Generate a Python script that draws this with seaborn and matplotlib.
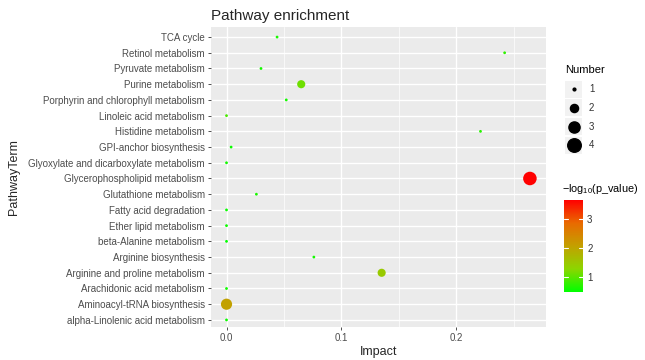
import numpy as np
import pandas as pd
import matplotlib
matplotlib.use('Agg')
import matplotlib.pyplot as plt
import seaborn as sns
from matplotlib.colors import LinearSegmentedColormap, Normalize
from matplotlib.lines import Line2D
from matplotlib.patches import Rectangle

# pathways listed top to bottom as they appear on the y axis
pathways = ['TCA cycle', 'Retinol metabolism', 'Pyruvate metabolism', 'Purine metabolism',
            'Porphyrin and chlorophyll metabolism', 'Linoleic acid metabolism',
            'Histidine metabolism', 'GPI-anchor biosynthesis',
            'Glyoxylate and dicarboxylate metabolism', 'Glycerophospholipid metabolism',
            'Glutathione metabolism', 'Fatty acid degradation', 'Ether lipid metabolism',
            'beta-Alanine metabolism', 'Arginine biosynthesis',
            'Arginine and proline metabolism', 'Arachidonic acid metabolism',
            'Aminoacyl-tRNA biosynthesis', 'alpha-Linolenic acid metabolism']
impact = [0.044, 0.242, 0.030, 0.065, 0.052, 0.0, 0.221, 0.004, 0.0, 0.264,
          0.026, 0.0, 0.0, 0.0, 0.076, 0.135, 0.0, 0.0, 0.0]
number = [1, 1, 1, 2, 1, 1, 1, 1, 1, 4, 1, 1, 1, 1, 1, 2, 1, 3, 1]
neglog_p = [0.62, 0.75, 0.60, 1.10, 0.58, 0.90, 0.70, 0.55, 0.58, 3.65,
            0.62, 0.52, 0.55, 0.48, 0.60, 1.45, 0.56, 2.05, 0.55]

df = pd.DataFrame({'PathwayTerm': pathways, 'Impact': impact,
                   'Number': number, 'neglog': neglog_p})

cmap = LinearSegmentedColormap.from_list(
    'gr', ['#00FF00', '#8CD600', '#C3A000', '#E96A00', '#FF0000'])
cnorm = Normalize(vmin=min(neglog_p), vmax=max(neglog_p))
size_range = (4, 95)
size_norm = (1, 4)

sns.set_theme(style='darkgrid')
plt.rcParams['font.family'] = ['Liberation Sans', 'DejaVu Sans']
plt.rcParams['mathtext.fontset'] = 'custom'
plt.rcParams['mathtext.rm'] = 'Liberation Sans'
plt.rcParams['mathtext.it'] = 'Liberation Sans:italic'

fig = plt.figure(figsize=(6.45, 3.6), dpi=100)
ax = fig.add_axes([211 / 645, 1 - 327 / 360, 335 / 645, 300 / 360])
ax.set_facecolor('#EBEBEB')

sns.scatterplot(data=df, x='Impact', y='PathwayTerm', hue='neglog', palette=cmap,
                hue_norm=cnorm, size='Number', sizes=size_range, size_norm=size_norm,
                linewidth=0, legend=False, ax=ax, zorder=3)

ax.set_xlim(-0.0135, 0.278)
ax.set_ylim(len(pathways) - 0.55, -0.64)
ax.set_xticks([0.0, 0.1, 0.2])
ax.set_xticklabels(['0.0', '0.1', '0.2'])
ax.set_xticks([0.05, 0.15, 0.25], minor=True)
ax.grid(which='major', color='white', linewidth=1.0)
ax.grid(which='minor', axis='x', color='white', linewidth=0.5)
for s in ax.spines.values():
    s.set_visible(False)
ax.tick_params(axis='both', which='major', length=2.5, width=0.6, color='#333333',
               labelsize=7, labelcolor='#4D4D4D', pad=2, left=True, bottom=True)
ax.tick_params(axis='x', which='minor', length=0)
ax.set_xlabel('Impact', fontsize=9, labelpad=2)
ax.set_ylabel('PathwayTerm', fontsize=9, labelpad=6)
ax.set_title('Pathway enrichment', fontsize=11, loc='left', pad=5)

# size legend
def area(n):
    f = (n - size_norm[0]) / (size_norm[1] - size_norm[0])
    return size_range[0] + f * (size_range[1] - size_range[0])

fig.text(565 / 645, 1 - 73 / 360, 'Number', fontsize=8, color='black')
for i, n in enumerate([1, 2, 3, 4]):
    yc = 1 - (89 + i * 18.8) / 360
    fig.add_artist(Rectangle((565 / 645, yc - 8.5 / 360), 17 / 645, 17 / 360,
                             transform=fig.transFigure, facecolor='#F2F2F2',
                             edgecolor='none'))
    fig.add_artist(Line2D([573.5 / 645], [yc], marker='o', markersize=np.sqrt(area(n)),
                          color='black', linestyle='none', transform=fig.transFigure))
    fig.text(589 / 645, yc, str(n), fontsize=7, va='center', color='#333333')

# colour bar
cax = fig.add_axes([564 / 645, 1 - 292 / 360, 19 / 645, 92 / 360])
sm = plt.cm.ScalarMappable(norm=cnorm, cmap=cmap)
cb = fig.colorbar(sm, cax=cax)
cb.outline.set_visible(False)
cb.set_ticks([1, 2, 3])
cax.tick_params(length=0, labelsize=7, labelcolor='#333333', pad=3)
for t in [1, 2, 3]:
    cax.plot([0, 0.22], [t, t], color='white', lw=0.8, transform=cax.get_yaxis_transform())
    cax.plot([0.78, 1], [t, t], color='white', lw=0.8, transform=cax.get_yaxis_transform())
fig.text(562 / 645, 1 - 192 / 360, '\u2212' + r'$\mathregular{log_{10}}$(p_value)',
         fontsize=7.8, color='black')

fig.savefig('out.png', dpi=100)
